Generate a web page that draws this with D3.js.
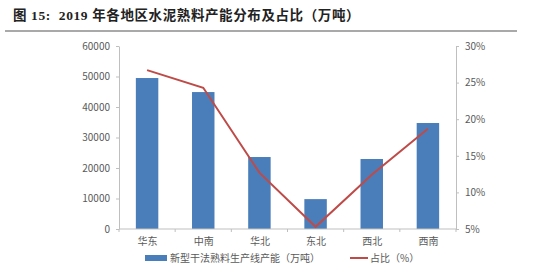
<!DOCTYPE html>
<html lang="zh">
<head>
<meta charset="UTF-8">
<title>2019年各地区水泥熟料产能分布及占比</title>
<script src="https://d3js.org/d3.v7.min.js"></script>
<style>
  body { margin: 0; background: #fff; font-family: "Noto Sans CJK SC", sans-serif; }
  .axis text { font-size: 10px; fill: #595959; font-family: "Noto Sans CJK SC", sans-serif; }
  .axis path, .axis line { stroke: #bfbfbf; }
</style>
</head>
<body>
<svg id="chart" width="550" height="273"></svg>
<script>
// data
const regions = ["华东", "中南", "华北", "东北", "西北", "西南"];
const capacity = [49500, 44900, 23600, 9800, 22950, 34750];   // 万吨
const share = [0.267, 0.243, 0.127, 0.053, 0.124, 0.187];
const leftTicks = [0, 10000, 20000, 30000, 40000, 50000, 60000];
const rightTicks = [0.05, 0.10, 0.15, 0.20, 0.25, 0.30];

const BAR_BLUE = "#4a7ebb", LINE_RED = "#be4b48";

const svg = d3.select("#chart");
const margin = { top: 46, right: 94, bottom: 44, left: 119 };
const width = 550 - margin.left - margin.right,
      height = 273 - margin.top - margin.bottom;

// title + rule
svg.append("text")
  .attr("x", 13).attr("y", 20)
  .attr("font-size", "13.5px").attr("font-weight", "bold")
  .attr("font-family", "'Liberation Serif', 'Noto Sans CJK SC', serif")
  .attr("fill", "#222")
  .attr("letter-spacing", "0.6px")
  .style("white-space", "pre")
  .text("图 15:  2019 年各地区水泥熟料产能分布及占比（万吨）");
svg.append("line")
  .attr("x1", 5).attr("x2", 517).attr("y1", 31).attr("y2", 31)
  .attr("stroke", "#8c8c8c").attr("stroke-width", 1.5);

const g = svg.append("g").attr("transform", `translate(${margin.left},${margin.top})`);

const x = d3.scaleBand().domain(regions).range([0, width]).paddingInner(0.6).paddingOuter(0.3);
const xLine = d3.scalePoint().domain(regions).range([0, width]).padding(0.5);
const y = d3.scaleLinear().domain([0, 60000]).range([height, 0]);
const y2 = d3.scaleLinear().domain([0.05, 0.30]).range([height, 0]);

// bars
g.selectAll(".bar")
  .data(regions)
  .join("rect")
  .attr("class", "bar")
  .attr("x", d => xLine(d) - x.bandwidth() / 2)
  .attr("width", x.bandwidth())
  .attr("y", (d, i) => y(capacity[i]))
  .attr("height", (d, i) => height - y(capacity[i]))
  .attr("fill", BAR_BLUE);

// axes
g.append("g").attr("class", "axis")
  .call(d3.axisLeft(y).tickValues(leftTicks).tickSize(3).tickSizeOuter(0).tickPadding(6).tickFormat(d3.format("d")));

g.append("g").attr("class", "axis")
  .attr("transform", `translate(${width},0)`)
  .call(d3.axisRight(y2).tickValues(rightTicks).tickSize(3).tickSizeOuter(0).tickPadding(6).tickFormat(d3.format(".0%")));

const xAxis = g.append("g").attr("class", "axis")
  .attr("transform", `translate(0,${height})`)
  .call(d3.axisBottom(xLine).tickSize(0).tickPadding(9));
xAxis.select(".domain").remove();
xAxis.append("line").attr("x1", 0).attr("x2", width).attr("stroke", "#bfbfbf");
// category separators
const step = width / regions.length;
xAxis.selectAll(".sep")
  .data(d3.range(regions.length + 1))
  .join("line")
  .attr("class", "sep")
  .attr("x1", d => d * step).attr("x2", d => d * step)
  .attr("y1", 0).attr("y2", 3)
  .attr("stroke", "#bfbfbf");

// share line
g.append("path")
  .datum(regions)
  .attr("fill", "none")
  .attr("stroke", LINE_RED)
  .attr("stroke-width", 2)
  .attr("d", d3.line().x(d => xLine(d)).y((d, i) => y2(share[i])));

// legend
const legend = svg.append("g").attr("transform", "translate(0,258)");
legend.append("rect").attr("x", 145).attr("y", -3).attr("width", 22).attr("height", 6).attr("fill", BAR_BLUE);
legend.append("text").attr("x", 170).attr("y", 0).attr("dy", "0.35em")
  .attr("font-size", "10px").attr("fill", "#595959")
  .attr("font-family", "'Noto Sans CJK SC', sans-serif")
  .text("新型干法熟料生产线产能（万吨）");
legend.append("line").attr("x1", 350).attr("x2", 368).attr("y1", 0).attr("y2", 0)
  .attr("stroke", LINE_RED).attr("stroke-width", 2);
legend.append("text").attr("x", 370).attr("y", 0).attr("dy", "0.35em")
  .attr("font-size", "10px").attr("fill", "#595959")
  .attr("font-family", "'Noto Sans CJK SC', sans-serif")
  .text("占比（%）");
</script>
</body>
</html>
